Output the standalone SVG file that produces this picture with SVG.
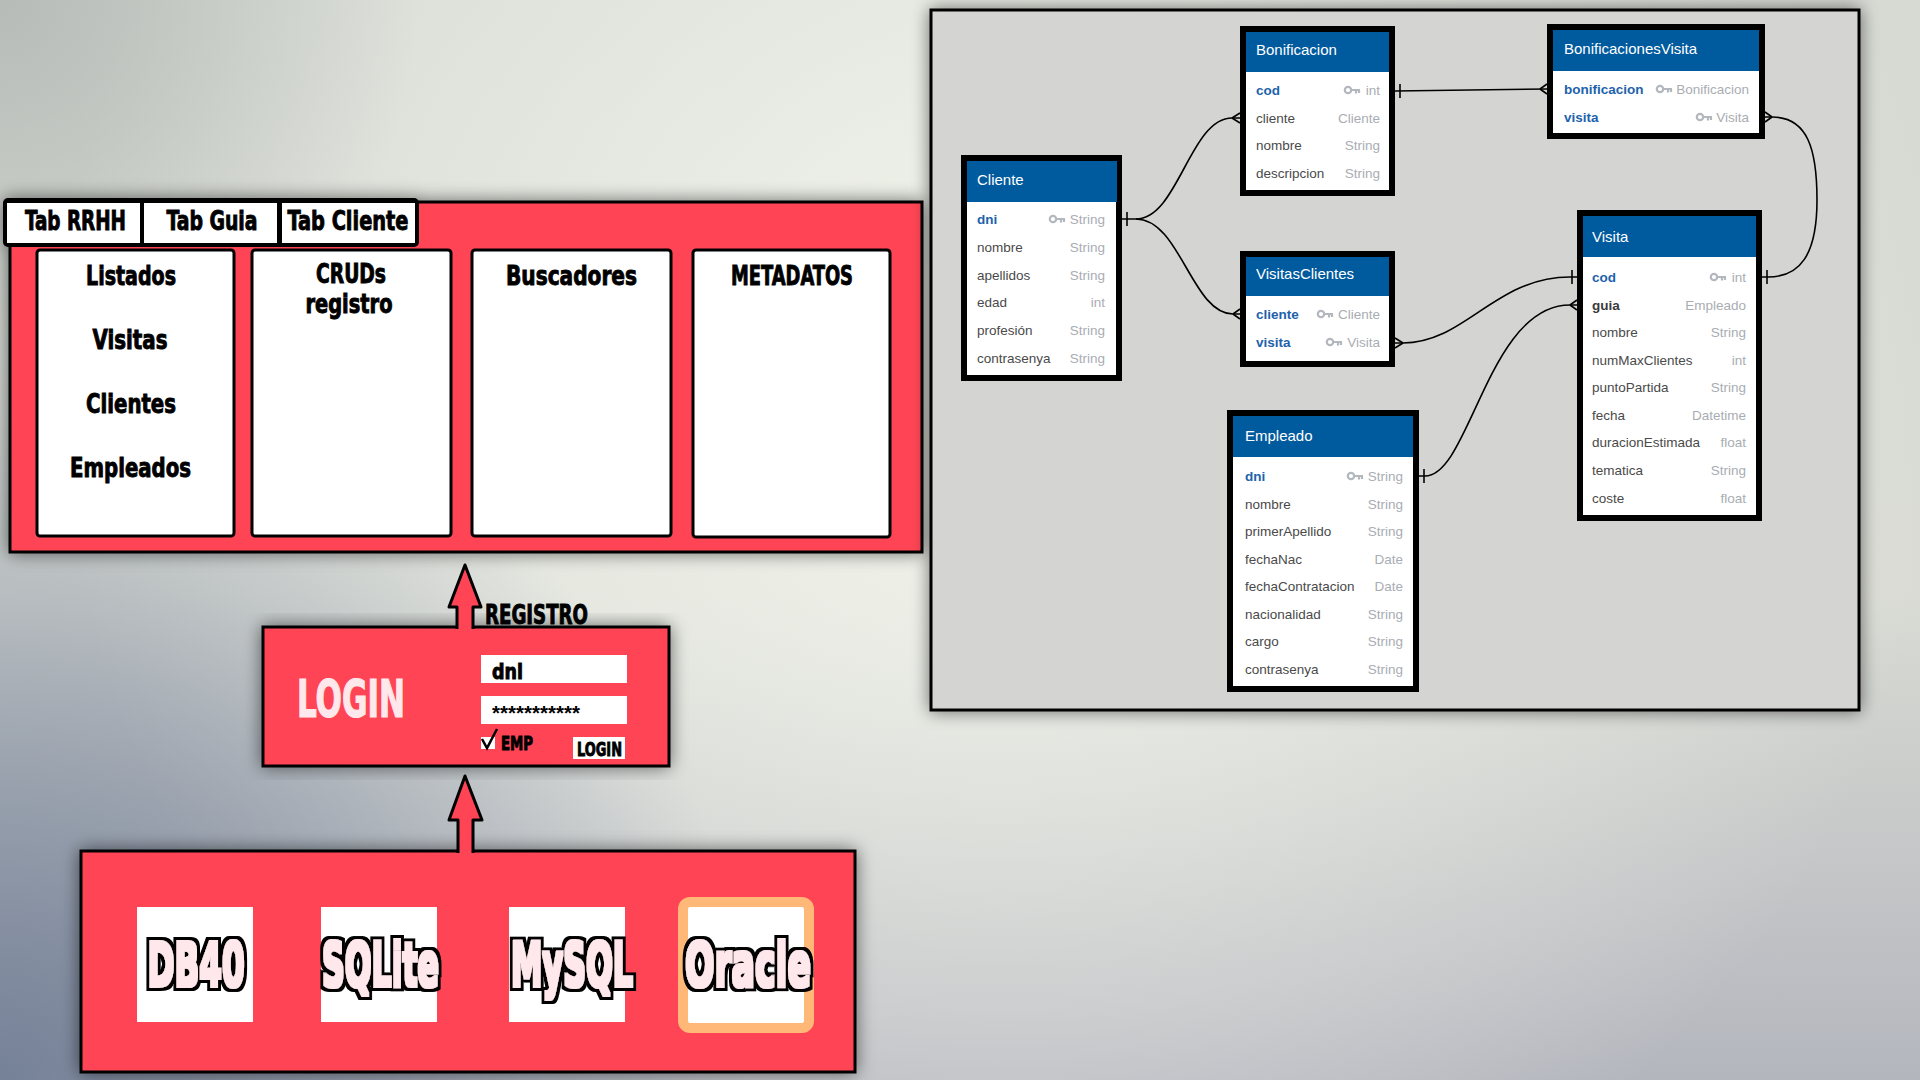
<svg xmlns="http://www.w3.org/2000/svg" xmlns:xlink="http://www.w3.org/1999/xlink" width="1920" height="1080" viewBox="0 0 1920 1080">
<defs>
<linearGradient id="bg" x1="0" y1="0" x2="0" y2="1">
<stop offset="0" stop-color="#D6DAD3"/><stop offset="0.55" stop-color="#D9DBD4"/><stop offset="1" stop-color="#B4B6BE"/>
</linearGradient>
<radialGradient id="glow" cx="1000" cy="380" r="950" gradientUnits="userSpaceOnUse">
<stop offset="0" stop-color="#F4F6EE" stop-opacity="0.95"/><stop offset="1" stop-color="#F4F6EE" stop-opacity="0"/>
</radialGradient>
<radialGradient id="bl" cx="0" cy="1080" r="750" gradientUnits="userSpaceOnUse">
<stop offset="0" stop-color="#6A7891" stop-opacity="0.85"/><stop offset="1" stop-color="#6A7891" stop-opacity="0"/>
</radialGradient>
<radialGradient id="tl" cx="0" cy="0" r="420" gradientUnits="userSpaceOnUse">
<stop offset="0" stop-color="#A8AEAC" stop-opacity="0.7"/><stop offset="1" stop-color="#A8AEAC" stop-opacity="0"/>
</radialGradient>
<filter id="sh" x="-10%" y="-10%" width="120%" height="120%">
<feGaussianBlur in="SourceAlpha" stdDeviation="9"/>
<feComponentTransfer><feFuncA type="linear" slope="0.55"/></feComponentTransfer>
<feMerge><feMergeNode/><feMergeNode in="SourceGraphic"/></feMerge>
</filter>
<filter id="fat" x="-10%" y="-30%" width="120%" height="160%">
<feMorphology in="SourceAlpha" operator="dilate" radius="1" result="core"/>
<feMorphology in="SourceAlpha" operator="dilate" radius="3.6" result="outer"/>
<feFlood flood-color="#000" result="k"/><feComposite in="k" in2="outer" operator="in" result="ko"/>
<feFlood flood-color="#FFE8EC" result="p"/><feComposite in="p" in2="core" operator="in" result="pc"/>
<feMerge><feMergeNode in="ko"/><feMergeNode in="pc"/></feMerge>
</filter>
<g id="key"><circle cx="4" cy="0" r="3.2" fill="none" stroke="#B3B7BE" stroke-width="2.2"/><path d="M7.2 0 H16 M12 0 V3.5 M15 0 V3" fill="none" stroke="#B3B7BE" stroke-width="2.2"/></g>
<style>
.imp{font-family:Impact,'Liberation Sans Narrow','DejaVu Sans Condensed','DejaVu Sans',sans-serif;font-weight:bold;font-stretch:condensed}
.blk{fill:#000;stroke:#000;stroke-width:0.9}
.red{fill:#FF4455;stroke:#000;stroke-width:3}
.wbox{fill:#fff;stroke:#000;stroke-width:3}
.db{fill:#FFE8EC;font-size:40px;text-anchor:middle}
.tbl{fill:#fff;stroke:#000;stroke-width:6}
.hdr{fill:#005A9E}
.tt{font-family:'Liberation Sans',Arial,sans-serif;font-size:15px;fill:#fff}
.f{font-family:'Liberation Sans',Arial,sans-serif;font-size:13.5px;fill:#4A4A4A}
.pk{fill:#1D62AB;font-weight:bold}
.bd{font-weight:bold;fill:#3A3A3A}
.ty{font-family:'Liberation Sans',Arial,sans-serif;font-size:13.5px;fill:#A9ADB3;text-anchor:end}
.cn{fill:none;stroke:#000;stroke-width:1.6}
</style>
</defs>

<g id="background">
<rect width="1920" height="1080" fill="url(#bg)"/>
<rect width="1920" height="1080" fill="url(#glow)"/>
<rect width="1920" height="1080" fill="url(#bl)"/>
<rect width="1920" height="1080" fill="url(#tl)"/>
</g>

<!-- App window -->
<g id="app-panel" filter="url(#sh)">
<rect class="red" x="10" y="202" width="912" height="350"/>
<rect x="3" y="198" width="416" height="49" rx="5" fill="#000"/>
</g>
<g id="tab-rrhh">
<rect x="7" y="203" width="133" height="40" fill="#fff"/>
<text class="imp blk" x="75.5" y="230" font-size="27" text-anchor="middle" textLength="101" lengthAdjust="spacingAndGlyphs">Tab RRHH</text>
</g>
<g id="tab-guia">
<rect x="144" y="203" width="133" height="40" fill="#fff"/>
<text class="imp blk" x="212" y="230" font-size="27" text-anchor="middle" textLength="91" lengthAdjust="spacingAndGlyphs">Tab Guia</text>
</g>
<g id="tab-cliente">
<rect x="282" y="203" width="133" height="40" fill="#fff"/>
<text class="imp blk" x="348" y="230" font-size="27" text-anchor="middle" textLength="121" lengthAdjust="spacingAndGlyphs">Tab Cliente</text>
</g>
<g id="listados">
<rect class="wbox" x="37" y="250" width="197" height="286" rx="3"/>
<text class="imp blk" x="131" y="285" font-size="27" text-anchor="middle" textLength="90" lengthAdjust="spacingAndGlyphs">Listados</text>
<text class="imp blk" x="130" y="349" font-size="27" text-anchor="middle" textLength="75" lengthAdjust="spacingAndGlyphs">Visitas</text>
<text class="imp blk" x="131" y="413" font-size="27" text-anchor="middle" textLength="90" lengthAdjust="spacingAndGlyphs">Clientes</text>
<text class="imp blk" x="130.5" y="477" font-size="27" text-anchor="middle" textLength="121" lengthAdjust="spacingAndGlyphs">Empleados</text>
</g>
<g id="cruds">
<rect class="wbox" x="252" y="250" width="199" height="286" rx="3"/>
<text class="imp blk" x="351" y="283" font-size="26" text-anchor="middle" textLength="70" lengthAdjust="spacingAndGlyphs">CRUDs</text>
<text class="imp blk" x="349" y="313" font-size="26" text-anchor="middle" textLength="87" lengthAdjust="spacingAndGlyphs">registro</text>
</g>
<g id="buscadores">
<rect class="wbox" x="472" y="250" width="199" height="286" rx="3"/>
<text class="imp blk" x="571.5" y="285" font-size="27" text-anchor="middle" textLength="131" lengthAdjust="spacingAndGlyphs">Buscadores</text>
</g>
<g id="metadatos">
<rect class="wbox" x="693" y="250" width="197" height="287" rx="3"/>
<text class="imp blk" x="792" y="285" font-size="27" text-anchor="middle" textLength="122" lengthAdjust="spacingAndGlyphs">METADATOS</text>
</g>

<!-- Login -->
<g id="login">
<rect class="red" x="263" y="627" width="406" height="139" filter="url(#sh)"/>
<text class="imp" x="351" y="717" font-size="52" fill="#FFE8EC" stroke="#FFE8EC" stroke-width="1.2" text-anchor="middle" textLength="108" lengthAdjust="spacingAndGlyphs">LOGIN</text>
<rect x="481" y="655" width="146" height="28" fill="#fff"/>
<text class="imp blk" x="492" y="679" font-size="22" textLength="31" lengthAdjust="spacingAndGlyphs">dni</text>
<rect x="481" y="696" width="146" height="28" fill="#fff"/>
<text x="492" y="720" font-family="'Liberation Sans',Arial,sans-serif" font-weight="bold" font-size="20" fill="#000" textLength="88" lengthAdjust="spacingAndGlyphs">***********</text>
<rect x="481" y="737" width="14" height="12" fill="#fff"/>
<path d="M482 739 L487 748 L497 729" fill="none" stroke="#000" stroke-width="2.5"/>
<text class="imp blk" x="501" y="750" font-size="19" textLength="32" lengthAdjust="spacingAndGlyphs">EMP</text>
<rect x="573" y="737" width="52" height="22" fill="#fff"/>
<text class="imp blk" x="577" y="756" font-size="20" textLength="45" lengthAdjust="spacingAndGlyphs">LOGIN</text>
</g>

<!-- DB panel -->
<g id="db-panel">
<rect class="red" x="81" y="851" width="774" height="221" filter="url(#sh)"/>
</g>
<g id="db40">
<rect x="137" y="907" width="116" height="115" fill="#fff"/>
<text class="imp db" filter="url(#fat)" transform="translate(196 986) scale(1 1.5)" x="0" y="0" textLength="97" lengthAdjust="spacingAndGlyphs">DB40</text>
</g>
<g id="sqlite">
<rect x="321" y="907" width="116" height="115" fill="#fff"/>
<text class="imp db" filter="url(#fat)" transform="translate(380.5 986) scale(1 1.5)" x="0" y="0" textLength="117" lengthAdjust="spacingAndGlyphs">SQLite</text>
</g>
<g id="mysql">
<rect x="509" y="907" width="116" height="115" fill="#fff"/>
<text class="imp db" filter="url(#fat)" transform="translate(572 986) scale(1 1.5)" x="0" y="0" textLength="122" lengthAdjust="spacingAndGlyphs">MySQL</text>
</g>
<g id="oracle">
<rect x="683" y="902" width="126" height="126" rx="7" fill="#fff" stroke="#FFB878" stroke-width="10"/>
<text class="imp db" filter="url(#fat)" transform="translate(748 986) scale(1 1.5)" x="0" y="0" textLength="126" lengthAdjust="spacingAndGlyphs">Oracle</text>
</g>

<!-- Arrows -->
<g id="arrows">
<path d="M465 565 L481 607 L473 607 L473 630 L457 630 L457 607 L449 607 Z" fill="#FF4455"/>
<path d="M457 629 L457 607 L449 607 L465 565 L481 607 L473 607 L473 629" fill="none" stroke="#000" stroke-width="3" stroke-linejoin="round"/>
<text class="imp blk" x="485" y="624" font-size="26" textLength="103" lengthAdjust="spacingAndGlyphs">REGISTRO</text>
<path d="M465 776 L482 820 L473 820 L473 854 L458 854 L458 820 L449 820 Z" fill="#FF4455"/>
<path d="M458 853 L458 820 L449 820 L465 776 L482 820 L473 820 L473 853" fill="none" stroke="#000" stroke-width="3" stroke-linejoin="round"/>
</g>

<!-- ER diagram -->
<g id="er-panel">
<rect x="931" y="10" width="928" height="700" fill="#D4D5D3" stroke="#000" stroke-width="3" filter="url(#sh)"/>
</g>

<g id="connectors">
<path class="cn" d="M1122 219 L1136 219 C1178 219 1190 118 1232 118 L1240 118"/>
<path class="cn" d="M1127 212 V226"/>
<path class="cn" d="M1232 118 L1240 113 M1232 118 L1240 123"/>
<path class="cn" d="M1136 219 C1180 219 1192 314 1233 314 L1240 314"/>
<path class="cn" d="M1233 314 L1240 309 M1233 314 L1240 319"/>
<path class="cn" d="M1395 91 L1547 89"/>
<path class="cn" d="M1400 84 V98"/>
<path class="cn" d="M1540 89 L1547 84 M1540 89 L1547 94"/>
<path class="cn" d="M1395 343 L1403 343 C1465 343 1495 277 1570 277 L1577 277"/>
<path class="cn" d="M1403 343 L1395 338 M1403 343 L1395 348"/>
<path class="cn" d="M1572 270 V284"/>
<path class="cn" d="M1419 476 L1425 476 C1470 476 1488 305 1570 305 L1577 305"/>
<path class="cn" d="M1424 469 V483"/>
<path class="cn" d="M1570 305 L1577 300 M1570 305 L1577 310"/>
<path class="cn" d="M1765 117 L1772 117 C1808 117 1817 150 1817 200 C1817 255 1800 277 1768 277 L1762 277"/>
<path class="cn" d="M1772 117 L1765 112 M1772 117 L1765 122"/>
<path class="cn" d="M1767 270 V284"/>
</g>

<g id="cliente">
<rect class="tbl" x="964" y="158" width="155" height="220"/>
<rect class="hdr" x="967" y="161" width="150" height="41"/>
<text class="tt" x="977" y="185">Cliente</text>
<text class="f pk" x="977" y="224">dni</text><use xlink:href="#key" x="1049" y="219"/><text class="ty" x="1105" y="224">String</text>
<text class="f" x="977" y="252">nombre</text><text class="ty" x="1105" y="252">String</text>
<text class="f" x="977" y="280">apellidos</text><text class="ty" x="1105" y="280">String</text>
<text class="f" x="977" y="307">edad</text><text class="ty" x="1105" y="307">int</text>
<text class="f" x="977" y="335">profesión</text><text class="ty" x="1105" y="335">String</text>
<text class="f" x="977" y="363">contrasenya</text><text class="ty" x="1105" y="363">String</text>
</g>

<g id="bonificacion">
<rect class="tbl" x="1243" y="29" width="149" height="164"/>
<rect class="hdr" x="1246" y="32" width="143" height="40"/>
<text class="tt" x="1256" y="55">Bonificacion</text>
<text class="f pk" x="1256" y="95">cod</text><use xlink:href="#key" x="1344" y="90"/><text class="ty" x="1380" y="95">int</text>
<text class="f" x="1256" y="123">cliente</text><text class="ty" x="1380" y="123">Cliente</text>
<text class="f" x="1256" y="150">nombre</text><text class="ty" x="1380" y="150">String</text>
<text class="f" x="1256" y="178">descripcion</text><text class="ty" x="1380" y="178">String</text>
</g>

<g id="bonificacionesvisita">
<rect class="tbl" x="1550" y="27" width="212" height="109"/>
<rect class="hdr" x="1553" y="30" width="206" height="41"/>
<text class="tt" x="1564" y="54">BonificacionesVisita</text>
<text class="f pk" x="1564" y="94">bonificacion</text><use xlink:href="#key" x="1656" y="89"/><text class="ty" x="1749" y="94">Bonificacion</text>
<text class="f pk" x="1564" y="122">visita</text><use xlink:href="#key" x="1696" y="117"/><text class="ty" x="1749" y="122">Visita</text>
</g>

<g id="visitasclientes">
<rect class="tbl" x="1243" y="254" width="149" height="110"/>
<rect class="hdr" x="1246" y="257" width="143" height="39"/>
<text class="tt" x="1256" y="279">VisitasClientes</text>
<text class="f pk" x="1256" y="319">cliente</text><use xlink:href="#key" x="1317" y="314"/><text class="ty" x="1380" y="319">Cliente</text>
<text class="f pk" x="1256" y="347">visita</text><use xlink:href="#key" x="1326" y="342"/><text class="ty" x="1380" y="347">Visita</text>
</g>

<g id="visita">
<rect class="tbl" x="1580" y="213" width="179" height="305"/>
<rect class="hdr" x="1583" y="216" width="173" height="41"/>
<text class="tt" x="1592" y="242">Visita</text>
<text class="f pk" x="1592" y="282">cod</text><use xlink:href="#key" x="1710" y="277"/><text class="ty" x="1746" y="282">int</text>
<text class="f bd" x="1592" y="310">guia</text><text class="ty" x="1746" y="310">Empleado</text>
<text class="f" x="1592" y="337">nombre</text><text class="ty" x="1746" y="337">String</text>
<text class="f" x="1592" y="365">numMaxClientes</text><text class="ty" x="1746" y="365">int</text>
<text class="f" x="1592" y="392">puntoPartida</text><text class="ty" x="1746" y="392">String</text>
<text class="f" x="1592" y="420">fecha</text><text class="ty" x="1746" y="420">Datetime</text>
<text class="f" x="1592" y="447">duracionEstimada</text><text class="ty" x="1746" y="447">float</text>
<text class="f" x="1592" y="475">tematica</text><text class="ty" x="1746" y="475">String</text>
<text class="f" x="1592" y="503">coste</text><text class="ty" x="1746" y="503">float</text>
</g>

<g id="empleado">
<rect class="tbl" x="1230" y="413" width="186" height="276"/>
<rect class="hdr" x="1233" y="416" width="180" height="41"/>
<text class="tt" x="1245" y="441">Empleado</text>
<text class="f pk" x="1245" y="481">dni</text><use xlink:href="#key" x="1347" y="476"/><text class="ty" x="1403" y="481">String</text>
<text class="f" x="1245" y="509">nombre</text><text class="ty" x="1403" y="509">String</text>
<text class="f" x="1245" y="536">primerApellido</text><text class="ty" x="1403" y="536">String</text>
<text class="f" x="1245" y="564">fechaNac</text><text class="ty" x="1403" y="564">Date</text>
<text class="f" x="1245" y="591">fechaContratacion</text><text class="ty" x="1403" y="591">Date</text>
<text class="f" x="1245" y="619">nacionalidad</text><text class="ty" x="1403" y="619">String</text>
<text class="f" x="1245" y="646">cargo</text><text class="ty" x="1403" y="646">String</text>
<text class="f" x="1245" y="674">contrasenya</text><text class="ty" x="1403" y="674">String</text>
</g>
</svg>
